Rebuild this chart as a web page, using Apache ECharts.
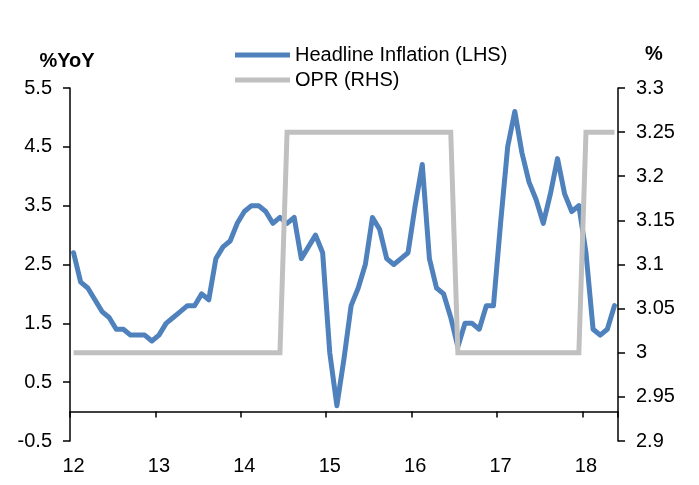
<!DOCTYPE html>
<html><head><meta charset="utf-8">
<script src="https://cdn.jsdelivr.net/npm/echarts@6/dist/echarts.min.js"></script>
<style>html,body{margin:0;padding:0;background:#fff}#c{width:699px;height:485px}</style>
</head><body><div id="c"></div>
<script>
const categories = [
 'Jan-12','Feb-12','Mar-12','Apr-12','May-12','Jun-12','Jul-12','Aug-12','Sep-12','Oct-12','Nov-12','Dec-12',
 'Jan-13','Feb-13','Mar-13','Apr-13','May-13','Jun-13','Jul-13','Aug-13','Sep-13','Oct-13','Nov-13','Dec-13',
 'Jan-14','Feb-14','Mar-14','Apr-14','May-14','Jun-14','Jul-14','Aug-14','Sep-14','Oct-14','Nov-14','Dec-14',
 'Jan-15','Feb-15','Mar-15','Apr-15','May-15','Jun-15','Jul-15','Aug-15','Sep-15','Oct-15','Nov-15','Dec-15',
 'Jan-16','Feb-16','Mar-16','Apr-16','May-16','Jun-16','Jul-16','Aug-16','Sep-16','Oct-16','Nov-16','Dec-16',
 'Jan-17','Feb-17','Mar-17','Apr-17','May-17','Jun-17','Jul-17','Aug-17','Sep-17','Oct-17','Nov-17','Dec-17',
 'Jan-18','Feb-18','Mar-18','Apr-18','May-18'
];
const headlineInflation = [
 2.7,2.2,2.1,1.9,1.7,1.6,1.4,1.4,1.3,1.3,1.3,1.2,
 1.3,1.5,1.6,1.7,1.8,1.8,2.0,1.9,2.6,2.8,2.9,3.2,
 3.4,3.5,3.5,3.4,3.2,3.3,3.2,3.3,2.6,2.8,3.0,2.7,
 1.0,0.1,0.9,1.8,2.1,2.5,3.3,3.1,2.6,2.5,2.6,2.7,
 3.5,4.2,2.6,2.1,2.0,1.6,1.1,1.5,1.5,1.4,1.8,1.8,
 3.2,4.5,5.1,4.4,3.9,3.6,3.2,3.7,4.3,3.7,3.4,3.5,
 2.7,1.4,1.3,1.4,1.8
];
const opr = [
 3.0,3.0,3.0,3.0,3.0,3.0,3.0,3.0,3.0,3.0,3.0,3.0,
 3.0,3.0,3.0,3.0,3.0,3.0,3.0,3.0,3.0,3.0,3.0,3.0,
 3.0,3.0,3.0,3.0,3.0,3.0,3.25,3.25,3.25,3.25,3.25,3.25,
 3.25,3.25,3.25,3.25,3.25,3.25,3.25,3.25,3.25,3.25,3.25,3.25,
 3.25,3.25,3.25,3.25,3.25,3.25,3.0,3.0,3.0,3.0,3.0,3.0,
 3.0,3.0,3.0,3.0,3.0,3.0,3.0,3.0,3.0,3.0,3.0,3.0,
 3.25,3.25,3.25,3.25,3.25
];
const seriesNames = ['Headline Inflation (LHS)', 'OPR (RHS)'];
const leftAxisName = '%YoY';
const rightAxisName = '%';

const FONT = '"Liberation Sans", Arial, sans-serif';
const chart = echarts.init(document.getElementById('c'), null, {renderer: 'canvas'});
const yearStart = (i) => i % 12 === 0;
chart.setOption({
  animation: false,
  backgroundColor: '#fff',
  textStyle: {fontFamily: FONT},
  grid: {left: 70, right: 81, top: 88, bottom: 44, containLabel: false, outerBoundsMode: 'none'},
  legend: {
    orient: 'vertical', left: 230, top: 37.5, itemGap: 0,
    icon: 'rect', itemWidth: 55, itemHeight: 5,
    textStyle: {fontFamily: FONT, fontSize: 20, color: '#000', lineHeight: 25, padding: [0,0,0,0]},
    data: seriesNames
  },
  graphic: [
    {type: 'text', x: 67, y: 61, style: {text: leftAxisName, font: 'bold 20px ' + FONT, fill: '#000', align: 'center', verticalAlign: 'middle'}},
    {type: 'text', x: 654, y: 54, style: {text: rightAxisName, font: 'bold 20px ' + FONT, fill: '#000', align: 'center', verticalAlign: 'middle'}}
  ],
  xAxis: {
    type: 'category', data: categories, boundaryGap: true,
    axisLine: {show: true, onZero: true, lineStyle: {color: '#000', width: 1.5}},
    axisTick: {show: true, alignWithLabel: false, interval: (i) => yearStart(i), inside: false, length: 6, lineStyle: {color: '#000', width: 1.5}},
    axisLabel: {interval: (i) => yearStart(i), formatter: (v) => v.slice(-2), margin: 15, fontSize: 20, color: '#000', fontFamily: FONT},
    splitLine: {show: false}
  },
  yAxis: [
    {type: 'value', min: -0.5, max: 5.5, interval: 1, position: 'left',
     axisLine: {show: true, onZero: false, lineStyle: {color: '#000', width: 1.5}},
     axisTick: {show: true, length: 7, lineStyle: {color: '#000', width: 1.5}},
     axisLabel: {margin: 18, fontSize: 20, color: '#000', fontFamily: FONT, formatter: (v) => v.toFixed(1)},
     splitLine: {show: false}},
    {type: 'value', min: 2.9, max: 3.3, interval: 0.05, position: 'right',
     axisLine: {show: true, onZero: false, lineStyle: {color: '#000', width: 1.5}},
     axisTick: {show: true, length: 7, lineStyle: {color: '#000', width: 1.5}},
     axisLabel: {margin: 18, fontSize: 20, color: '#000', fontFamily: FONT, formatter: (v) => String(parseFloat(v.toFixed(2)))},
     splitLine: {show: false}}
  ],
  series: [
    {name: seriesNames[0], type: 'line', yAxisIndex: 0, data: headlineInflation, symbol: 'none',
     color: '#4F81BD', lineStyle: {width: 5, color: '#4F81BD', cap: 'round', join: 'round'}},
    {name: seriesNames[1], type: 'line', yAxisIndex: 1, data: opr, symbol: 'none',
     color: '#C0C0C0', lineStyle: {width: 5, color: '#C0C0C0', cap: 'butt', join: 'miter'}}
  ]
});
</script></body></html>
